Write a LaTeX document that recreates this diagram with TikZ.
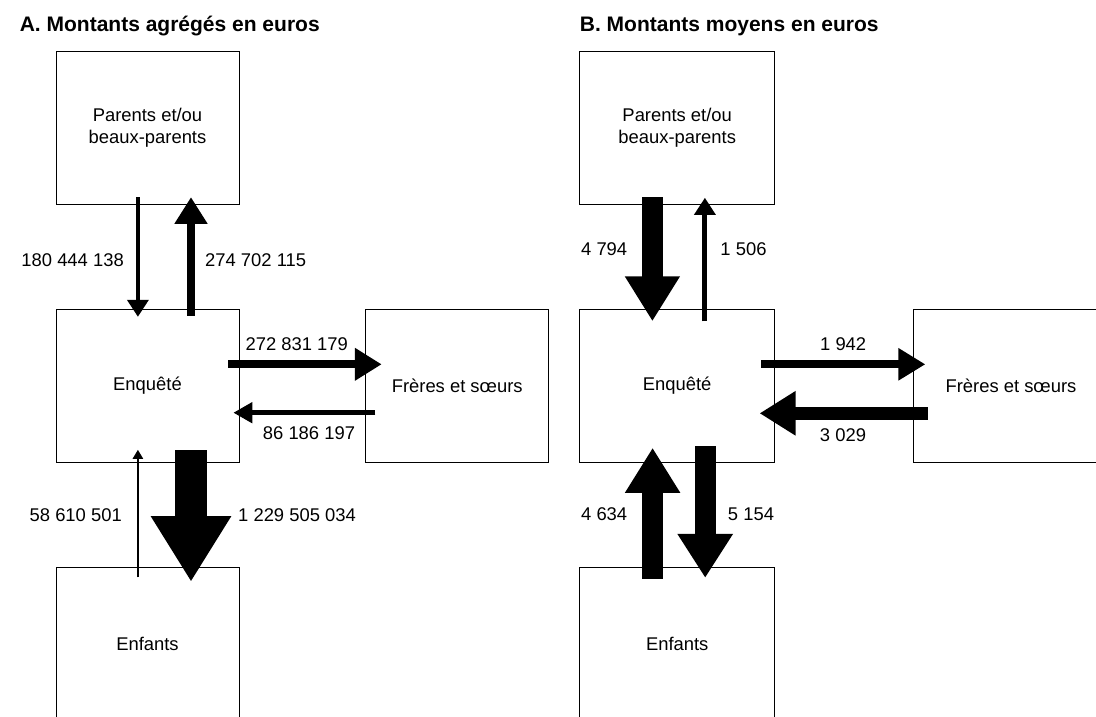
\documentclass[tikz,border=0pt]{standalone}
\usepackage{fontspec}
\setmainfont{Liberation Sans}
\usetikzlibrary{arrows.meta,calc}
\tikzset{
  box/.style={draw=black, line width=0.9pt, inner sep=0pt, align=center,
    minimum height=153pt, font=\fontsize{18.4}{22}\selectfont},
  boxA/.style={box, minimum width=183pt},
  boxB/.style={box, minimum width=195pt},
  lbl/.style={inner sep=0pt, font=\fontsize{18.4}{22}\selectfont},
  ttl/.style={inner sep=0pt, anchor=base west, font=\fontsize{21}{25}\selectfont\bfseries},
  flow/.style n args={3}{line width=#1pt, -{Triangle[width=#2pt,length=#3pt]}}
}
\begin{document}
\begin{tikzpicture}[x=1pt,y=-1pt]
\useasboundingbox (0,0) rectangle (1096,716);
\fill[white] (0,0) rectangle (1096,716);
\clip (0,0) rectangle (1096,716);

% titles
\node[ttl] (tA) at (19.6,31.7) {A. Montants agrégés en euros};
\node[ttl] (tB) at (579.7,31.7) {B. Montants moyens en euros};

% panel A boxes
\node[boxA] (parA) at (147.5,127.5) {Parents et/ou\\beaux-parents};
\node[boxA] (enqA) at (147.5,385.5) {Enquêté};
\node[boxA] (freA) at (457.2,385.5) {Frères et sœurs};
\node[boxA] (enfA) at (147.5,644) {Enfants};

% panel B boxes
\node[boxB] (parB) at (677.2,127.5) {Parents et/ou\\beaux-parents};
\node[boxB] (enqB) at (677.2,385.5) {Enquêté};
\node[boxB] (freB) at (1011,385.5) {Frères et sœurs};
\node[boxB] (enfB) at (677.2,644) {Enfants};

% panel A arrows
\draw[flow={4.3}{20.7}{17}] ($(parA.south)+(-9.6,-7.3)$) -- ($(enqA.north)+(-9.6,8.3)$);
\draw[flow={7.5}{31.4}{26.7}] ($(enqA.north)+(43.5,7)$) -- ($(parA.south)+(43.5,-7.3)$);
\draw[flow={8}{31}{26.7}] ($(enqA.east)+(-11.1,-21.2)$) -- ($(freA.west)+(16.4,-21.2)$);
\draw[flow={5.3}{20}{19}] ($(freA.west)+(10,27.2)$) -- ($(enqA.east)+(-6.1,27.2)$);
\draw[flow={2.5}{10}{9}] ($(enfA.north)+(-9.6,10.2)$) -- ($(enqA.south)+(-9.6,-12.7)$);
\draw[flow={32}{75.7}{65.7}] ($(enqA.south)+(43.5,-12)$) -- ($(enfA.north)+(43.5,14.8)$);

% panel A labels
\node[lbl, anchor=east] (a1) at (124,260) {180 444 138};
\node[lbl, anchor=west] (a2) at (205,260) {274 702 115};
\node[lbl] (a3) at (296.8,344) {272 831 179};
\node[lbl] (a4) at (309,432.7) {86 186 197};
\node[lbl, anchor=east] (a5) at (122,515) {58 610 501};
\node[lbl, anchor=west] (a6) at (238,515) {1 229 505 034};

% panel B arrows
\draw[flow={20.6}{52}{45}] ($(parB.south)+(-24.8,-7.3)$) -- ($(enqB.north)+(-24.8,12.7)$);
\draw[flow={5}{20.6}{17}] ($(enqB.north)+(27.7,12.7)$) -- ($(parB.south)+(27.7,-6.7)$);
\draw[flow={8}{30.7}{27}] ($(enqB.east)+(-14.1,-21.2)$) -- ($(freB.west)+(12.3,-21.2)$);
\draw[flow={12.7}{42}{36}] ($(freB.west)+(14.8,27.8)$) -- ($(enqB.east)+(-15.6,27.8)$);
\draw[flow={21}{52}{45}] ($(enfB.north)+(-24.6,11.8)$) -- ($(enqB.south)+(-24.6,-14.7)$);
\draw[flow={20.6}{52.5}{44}] ($(enqB.south)+(28,-16)$) -- ($(enfB.north)+(28,10.8)$);

% panel B labels
\node[lbl] (b1) at (604.2,249.3) {4 794};
\node[lbl] (b2) at (743.5,249.3) {1 506};
\node[lbl] (b3) at (843.2,344.3) {1 942};
\node[lbl] (b4) at (843,435) {3 029};
\node[lbl] (b5) at (604.2,514) {4 634};
\node[lbl] (b6) at (751,514) {5 154};
\end{tikzpicture}
\end{document}
